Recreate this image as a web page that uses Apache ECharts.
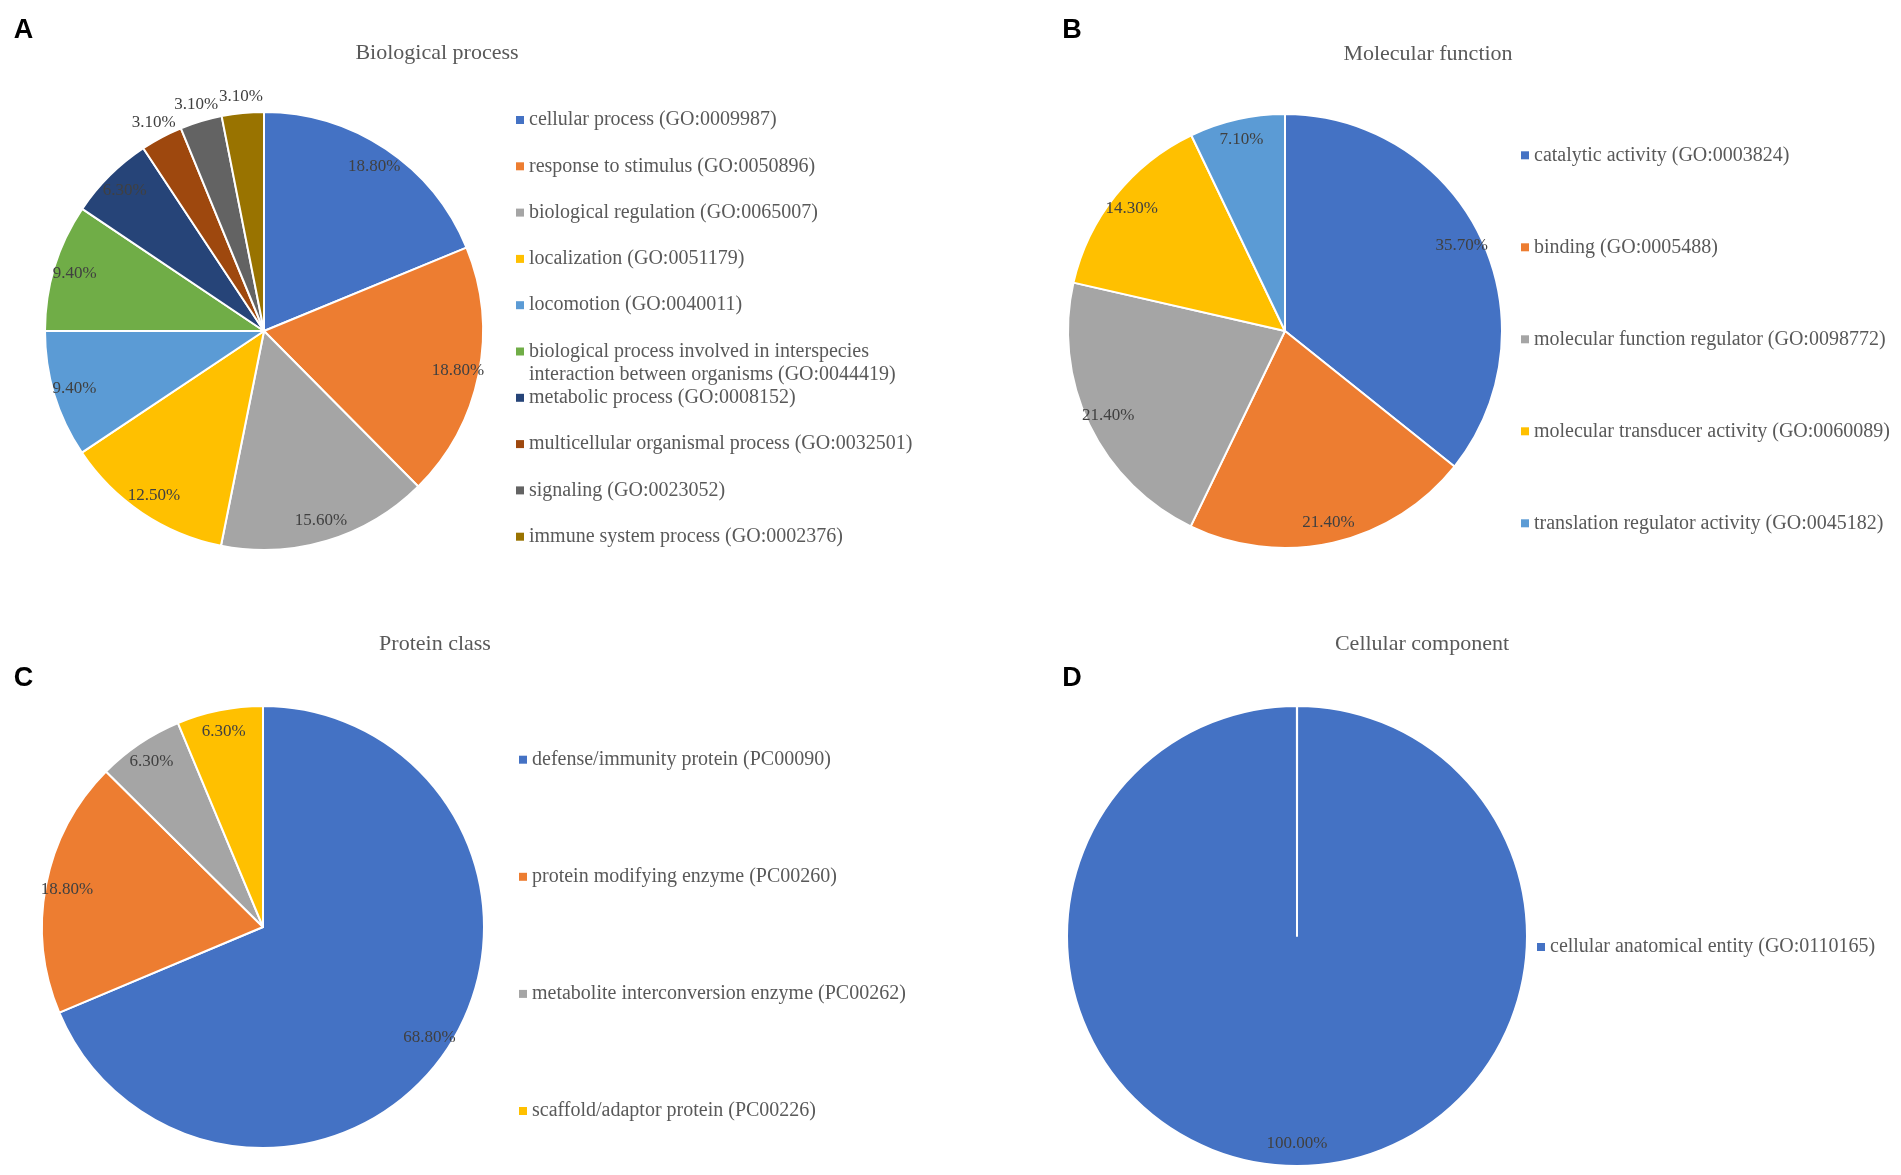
<!DOCTYPE html>
<html><head><meta charset="utf-8">
<script src="https://cdn.jsdelivr.net/npm/echarts@6/dist/echarts.min.js"></script>
<style>html,body{margin:0;padding:0;background:#fff}#c{width:1901px;height:1175px}</style>
</head><body><div id="c"></div>
<script>
// ---- data ----
const bpNames = [
  'cellular process (GO:0009987)',
  'response to stimulus (GO:0050896)',
  'biological regulation (GO:0065007)',
  'localization (GO:0051179)',
  'locomotion (GO:0040011)',
  'biological process involved in interspecies interaction between organisms (GO:0044419)',
  'metabolic process (GO:0008152)',
  'multicellular organismal process (GO:0032501)',
  'signaling (GO:0023052)',
  'immune system process (GO:0002376)'
];
const bpValues = [18.8, 18.8, 15.6, 12.5, 9.4, 9.4, 6.3, 3.1, 3.1, 3.1];

const mfNames = [
  'catalytic activity (GO:0003824)',
  'binding (GO:0005488)',
  'molecular function regulator (GO:0098772)',
  'molecular transducer activity (GO:0060089)',
  'translation regulator activity (GO:0045182)'
];
const mfValues = [35.7, 21.4, 21.4, 14.3, 7.1];

const pcNames = [
  'defense/immunity protein (PC00090)',
  'protein modifying enzyme (PC00260)',
  'metabolite interconversion enzyme (PC00262)',
  'scaffold/adaptor protein (PC00226)'
];
const pcValues = [68.8, 18.8, 6.3, 6.3];

const ccNames = ['cellular anatomical entity (GO:0110165)'];
const ccValues = [100];

const panelTitles = ['Biological process', 'Molecular function', 'Protein class', 'Cellular component'];
const panelLetters = ['A', 'B', 'C', 'D'];
const officeColors = ['#4472C4', '#ED7D31', '#A5A5A5', '#FFC000', '#5B9BD5', '#70AD47', '#264478', '#9E480E', '#636363', '#997300'];

// ---- helpers ----
const SERIF = "'Liberation Serif', 'Times New Roman', serif";
const SANS = "'Liberation Sans', Arial, sans-serif";
const labelFmt = p => p.value.toFixed(2) + '%';
const labelStyle = { color: '#404040', fontFamily: SERIF, fontSize: 17 };

function pieSeries(names, values, center, r, opts) {
  opts = opts || {};
  const outside = opts.outside || [];
  const base = {
    type: 'pie', center: center, startAngle: 90, clockwise: true,
    silent: true, legendHoverLink: false, avoidLabelOverlap: false,
    emphasis: { disabled: true }, labelLine: { show: false }
  };
  const visible = Object.assign({}, base, {
    radius: r, padAngle: opts.padAngle || 0,
    label: { show: false },
    itemStyle: { borderColor: '#ffffff', borderWidth: 2 },
    data: names.map((n, i) => ({ name: n, value: values[i], itemStyle: { color: officeColors[i] } }))
  });
  // transparent ring whose inside labels sit near the rim
  const inner = Object.assign({}, base, {
    radius: [r * 0.78, r], z: 5,
    itemStyle: { color: 'rgba(0,0,0,0)', borderWidth: 0 },
    label: Object.assign({ show: true, position: 'inside', formatter: labelFmt }, labelStyle),
    data: names.map((n, i) => {
      const d = { name: n, value: values[i] };
      if (outside.indexOf(i) >= 0) d.label = { show: false };
      return d;
    })
  });
  const out = [visible, inner];
  if (outside.length) {
    // transparent ring just outside the pie for the labels of the thin slices
    out.push(Object.assign({}, base, {
      radius: [r, r + 28], z: 5,
      itemStyle: { color: 'rgba(0,0,0,0)', borderWidth: 0 },
      label: Object.assign({ show: true, position: 'inside', formatter: labelFmt }, labelStyle),
      data: names.map((n, i) => {
        const d = { name: n, value: values[i] };
        if (outside.indexOf(i) < 0) d.label = { show: false };
        return d;
      })
    }));
  }
  return out;
}

function legend(names, left, top, gap, formatter) {
  const l = {
    orient: 'vertical', left: left, top: top, padding: 0, itemGap: gap,
    itemWidth: 8, itemHeight: 8, icon: 'rect', selectedMode: false,
    itemStyle: { borderWidth: 0 },
    textStyle: { fontFamily: SERIF, fontSize: 20, color: '#595959', lineHeight: 23 },
    data: names
  };
  if (formatter) l.formatter = formatter;
  return l;
}

function title(text, x, top, font, size, color, weight) {
  return {
    text: text, left: x, top: top, textAlign: 'center', padding: 0,
    textStyle: { fontFamily: font, fontSize: size, color: color, fontWeight: weight || 'normal', lineHeight: size }
  };
}

const chart = echarts.init(document.getElementById('c'), null, { renderer: 'canvas' });

const series = [].concat(
  pieSeries(bpNames, bpValues, [264, 331], 219, { outside: [7, 8, 9] }),
  pieSeries(mfNames, mfValues, [1285, 331], 217),
  pieSeries(pcNames, pcValues, [263, 927], 221),
  pieSeries(ccNames, ccValues, [1297, 936], 230, { padAngle: 0.06 })
);

const option = {
  backgroundColor: '#ffffff',
  animation: false,
  title: [
    title(panelLetters[0], 23.5, 17.5, SANS, 27, '#000', 'bold'),
    title(panelLetters[1], 1072, 17.5, SANS, 27, '#000', 'bold'),
    title(panelLetters[2], 23.5, 665.5, SANS, 27, '#000', 'bold'),
    title(panelLetters[3], 1072, 665.5, SANS, 27, '#000', 'bold'),
    title(panelTitles[0], 437, 42, SERIF, 22, '#595959'),
    title(panelTitles[1], 1428, 43, SERIF, 22, '#595959'),
    title(panelTitles[2], 435, 633, SERIF, 22, '#595959'),
    title(panelTitles[3], 1422, 633, SERIF, 22, '#595959')
  ],
  legend: [
    legend(bpNames.slice(0, 5), 516, 108.5, 23.3),
    legend([bpNames[5]], 516, 317, 0, function (name) {
      const k = name.indexOf(' interaction');
      return '\n' + name.slice(0, k) + '\n' + name.slice(k + 1);
    }),
    legend(bpNames.slice(6), 516, 386.3, 23.3),
    legend(mfNames, 1521, 143.8, 69),
    legend(pcNames, 519, 748.2, 94.1),
    legend(ccNames, 1537, 935.5, 0)
  ],
  series: series
};
chart.setOption(option);
</script>
</body></html>
